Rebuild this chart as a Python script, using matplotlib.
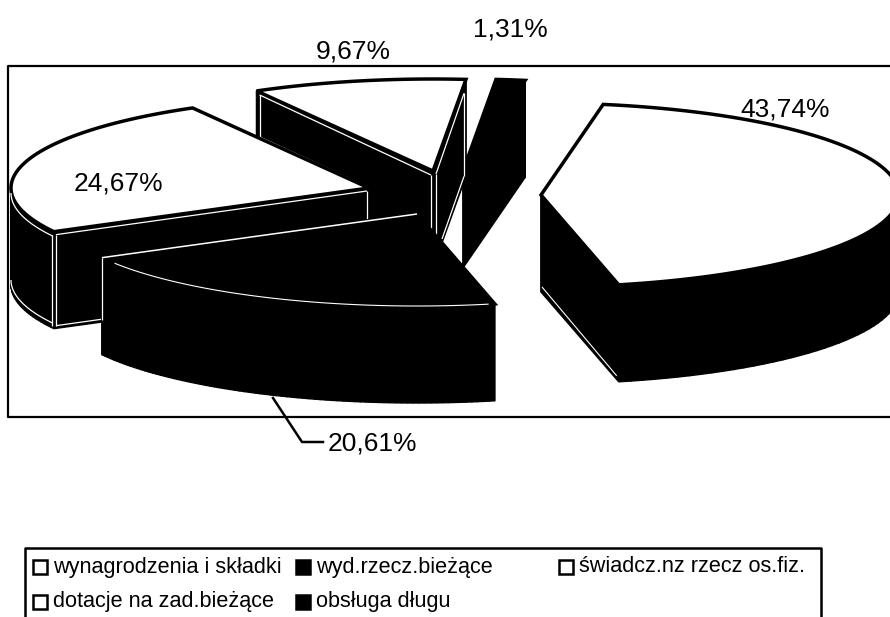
import numpy as np
import matplotlib
matplotlib.use('Agg')
import matplotlib.pyplot as plt
from matplotlib.patches import Polygon

plt.rcParams['font.family'] = ['Liberation Sans', 'DejaVu Sans']

# values in draw order round the pie, clockwise from the first slice
names = ['wynagrodzenia i składki', 'wyd.rzecz.bieżące', 'świadcz.nz rzecz os.fiz.',
         'dotacje na zad.bieżące', 'obsługa długu']
values = [43.74, 20.61, 24.67, 9.67, 1.31]
labels = ['43,74%', '20,61%', '24,67%', '9,67%', '1,31%']
top_colors = ['white', 'black', 'white', 'white', 'black']
legend_colors = ['white', 'black', 'white', 'white', 'black']

# pie shape in pixels
RX = 358
RY = 92
DEPTH = 97
START = 80.0
centers = [(541, 195), (417, 214), (369, 188), (433, 171), (463, 171)]
label_pos = [(785, 109), (372, 444), (118, 183), (353, 52), (510, 30)]


def slice_angles():
    out = []
    t = START
    for v in values:
        span = v / sum(values) * 360
        out.append((t, t - span))
        t -= span
    return out


def arc(c, t0, t1, dy=0, n=80):
    t = np.radians(np.linspace(t0, t1, n))
    return np.column_stack([c[0] + RX * np.cos(t), c[1] - RY * np.sin(t) + dy])


def draw_slice(ax, c, t0, t1, color, z):
    top = np.vstack([[c], arc(c, t0, t1)])
    low = top + [0, DEPTH]
    # sides: every quad of the outline pushed down, all black
    n = len(top)
    for i in range(n):
        j = (i + 1) % n
        quad = [top[i], top[j], low[j], low[i]]
        ax.add_patch(Polygon(quad, closed=True, fc='black', ec='black', lw=1, zorder=z))
    ax.add_patch(Polygon(top, closed=True, fc=color, ec='black', lw=2.5,
                         joinstyle='miter', zorder=z + 0.2))


def white_line(ax, pts, z, lw=0.9):
    pts = np.array(pts)
    ax.plot(pts[:, 0], pts[:, 1], color='white', lw=lw, zorder=z, solid_capstyle='butt')


def main():
    fig = plt.figure(figsize=(8.9, 6.17), dpi=100)
    ax = fig.add_axes([0, 0, 1, 1])
    ax.set_xlim(0, 890)
    ax.set_ylim(617, 0)
    ax.axis('off')

    # plot frame
    ax.plot([900, 8, 8, 900], [66, 66, 417, 417], color='black', lw=1.6, zorder=1)

    angles = slice_angles()
    zs = {4: 2, 3: 3, 2: 4, 1: 5, 0: 6}
    for i in [4, 3, 2, 1, 0]:
        draw_slice(ax, centers[i], angles[i][0], angles[i][1], top_colors[i], zs[i])

    # thin white highlights on the black side walls
    c = centers[2]
    corner = arc(c, angles[2][0], angles[2][0], n=1)[0]
    white_line(ax, arc(c, -180, -152, dy=5), 4.5)
    white_line(ax, arc(c, -180, -152, dy=DEPTH - 5), 4.5)
    white_line(ax, [corner + [-2, 3], corner + [-2, DEPTH - 3]], 4.5)
    white_line(ax, [corner + [2, 3], corner + [2, DEPTH - 3]], 4.5)
    white_line(ax, [corner + [2, 3], [c[0] - 2, c[1] + 3]], 4.5)
    white_line(ax, [corner + [2, DEPTH - 3], [c[0] - 2, c[1] + DEPTH - 3]], 4.5)
    white_line(ax, [[c[0] - 2, c[1] + 3], [c[0] - 2, c[1] + 34]], 4.5)

    c = centers[3]
    left = arc(c, angles[3][0], angles[3][0], n=1)[0]
    right = arc(c, angles[3][1], angles[3][1], n=1)[0]
    white_line(ax, [left + [3, 4], [c[0] - 2, c[1] + 4]], 3.5)
    white_line(ax, [left + [3, 4], left + [3, 46]], 3.5)
    white_line(ax, [left + [3, 46], [c[0] - 65, c[1] + 16]], 3.5)
    white_line(ax, [[c[0] - 2, c[1] + 4], [c[0] - 2, c[1] + 74]], 3.5)
    white_line(ax, [[c[0] + 3, c[1] + 3], right + [-2, 14]], 3.5)
    white_line(ax, [right + [-2, 14], right + [-2, DEPTH]], 3.5)
    white_line(ax, [right + [-2, DEPTH], [c[0] + 9, c[1] + 68]], 3.5)
    white_line(ax, [[c[0] + 3, c[1] + 3], [c[0] + 3, c[1] + 72]], 3.5)

    # the black slice: outline against its neighbours and its front edge
    c = centers[1]
    left = arc(c, angles[1][1], angles[1][1], n=1)[0]
    white_line(ax, [left, c], 5.5, lw=1.1)
    white_line(ax, [left, left + [0, 62]], 5.5, lw=0.9)
    white_line(ax, arc(c, angles[1][1] + 4, angles[1][0] - 1), 5.5, lw=0.8)

    c = centers[0]
    bottom = arc(c, angles[0][1], angles[0][1], n=1)[0]
    white_line(ax, [[c[0] + 1, c[1] + DEPTH - 5], bottom + [-2, DEPTH - 6]], 6.5, lw=0.8)

    # labels
    for s, (x, y) in zip(labels, label_pos):
        ax.text(x, y, s, fontsize=19, ha='center', va='center', color='black', zorder=10)
    ax.plot([273, 302, 323], [398, 442, 442], color='black', lw=1.8, zorder=10)

    # legend
    ax.plot([25, 25, 821, 821], [630, 548, 548, 630], color='black', lw=1.8, zorder=1)
    marks = [(40, 567), (303, 567), (566, 567), (40, 602), (303, 602)]
    for name, col, (x, y) in zip(names, legend_colors, marks):
        ax.plot([x], [y], marker='s', ms=9.5, mfc=col, mec='black', mew=1.8, zorder=3)
        ax.text(x + 13, y, name, fontsize=15.6, ha='left', va='center', color='black', zorder=3)

    fig.savefig('out.png', dpi=100)


if __name__ == "__main__":
    main()
